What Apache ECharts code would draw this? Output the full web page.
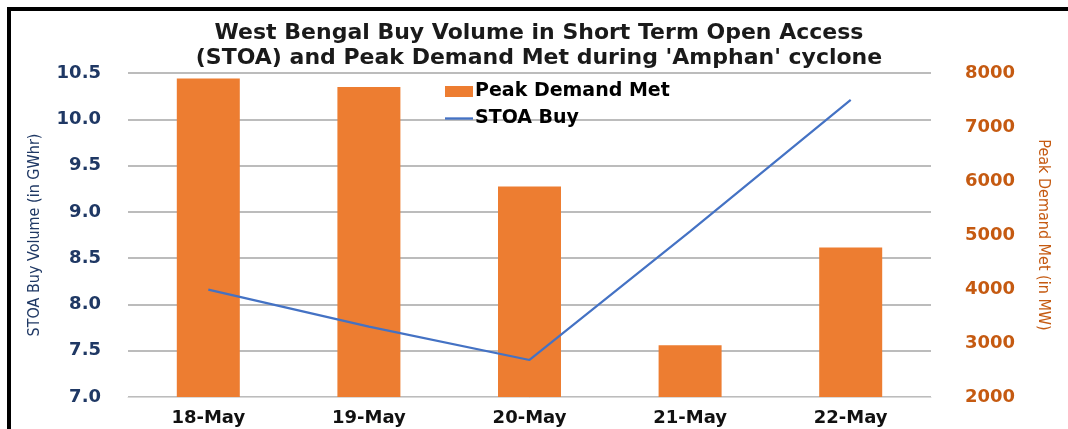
<!DOCTYPE html>
<html>
<head>
<meta charset="utf-8">
<script src="https://cdn.jsdelivr.net/npm/echarts@6/dist/echarts.min.js"></script>
<style>
html, body { margin: 0; padding: 0; background: #fff; }
#chart { width: 1068px; height: 429px; }
</style>
</head>
<body>
<div id="chart"></div>
<script>
var days = ['18-May', '19-May', '20-May', '21-May', '22-May'];
var peakDemand = [7900, 7740, 5900, 2960, 4770];
var stoaBuy = [8.16, 7.76, 7.40, 8.79, 10.21];

var chartDom = document.getElementById('chart');
var myChart = echarts.init(chartDom);
var option;

const colors = ['#ED7D31', '#4472C4'];
option = {
    color: colors,
    animation: false,
    title: {
        text: "West Bengal Buy Volume in Short Term Open Access\n(STOA) and Peak Demand Met during 'Amphan' cyclone",
        left: 534,
        textAlign: 'center',
        top: 16,
        textStyle: {
            fontFamily: 'DejaVu Sans',
            fontWeight: 'bold',
            fontSize: 22,
            lineHeight: 25,
            color: '#1a1a1a'
        }
    },
    graphic: [
        {
            type: 'rect',
            shape: { x: 9, y: 9, width: 1100, height: 460 },
            style: { fill: 'none', stroke: '#000', lineWidth: 4 }
        }
    ],
    grid: {
        left: 128,
        right: 137,
        top: 73,
        bottom: 32
    },
    legend: {
        orient: 'vertical',
        left: 440,
        top: 77,
        itemWidth: 28,
        itemHeight: 11,
        itemGap: 8,
        data: [
            { name: 'Peak Demand Met', icon: 'rect' },
            { name: 'STOA Buy', icon: 'path://M0,0H120V10H0Z' }
        ],
        textStyle: {
            fontFamily: 'DejaVu Sans',
            fontWeight: 'bold',
            fontSize: 19,
            color: '#000',
            padding: [0, 0, 0, -3]
        }
    },
    xAxis: [
        {
            type: 'category',
            data: days,
            axisTick: { show: false },
            axisLine: { lineStyle: { color: '#d9d9d9', width: 1 } },
            axisLabel: {
                margin: 12,
                fontFamily: 'DejaVu Sans',
                fontWeight: 'bold',
                fontSize: 18,
                color: '#111'
            }
        }
    ],
    yAxis: [
        {
            type: 'value',
            name: 'STOA Buy Volume (in GWhr)',
            nameLocation: 'middle',
            nameGap: 85,
            nameTextStyle: {
                fontFamily: 'DejaVu Sans Condensed',
                fontSize: 16,
                color: '#1F3864'
            },
            min: 7,
            max: 10.5,
            interval: 0.5,
            axisLine: { show: false },
            axisTick: { show: false },
            splitLine: { lineStyle: { color: '#a6a6a6', width: 1.5 } },
            axisLabel: {
                margin: 27,
                fontFamily: 'DejaVu Sans',
                fontWeight: 'bold',
                fontSize: 18,
                color: '#1F3864',
                formatter: function (v) { return v.toFixed(1); }
            }
        },
        {
            type: 'value',
            name: 'Peak Demand Met (in MW)',
            nameLocation: 'middle',
            nameGap: 104,
            nameRotate: -90,
            nameTextStyle: {
                fontFamily: 'DejaVu Sans Condensed',
                fontSize: 16,
                color: '#C55A11'
            },
            position: 'right',
            min: 2000,
            max: 8000,
            interval: 1000,
            axisLine: { show: false },
            axisTick: { show: false },
            splitLine: { show: false },
            axisLabel: {
                margin: 34,
                fontFamily: 'DejaVu Sans',
                fontWeight: 'bold',
                fontSize: 18,
                color: '#C55A11',
                formatter: function (v) { return String(v); }
            }
        }
    ],
    series: [
        {
            name: 'Peak Demand Met',
            type: 'bar',
            yAxisIndex: 1,
            barWidth: 63,
            itemStyle: { color: colors[0] },
            data: peakDemand
        },
        {
            name: 'STOA Buy',
            type: 'line',
            yAxisIndex: 0,
            symbol: 'none',
            lineStyle: { color: colors[1], width: 2.2 },
            itemStyle: { color: colors[1] },
            data: stoaBuy
        }
    ]
};
option && myChart.setOption(option);
</script>
</body>
</html>
